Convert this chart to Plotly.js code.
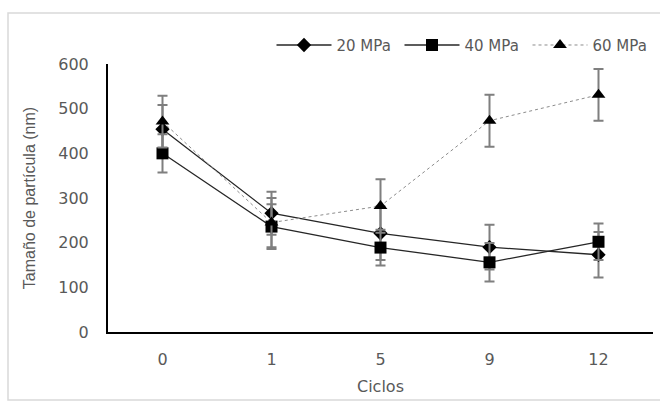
<!DOCTYPE html>
<html>
<head>
<meta charset="utf-8">
<script src="https://cdn.plot.ly/plotly-3.0.1.min.js"></script>
<style>html,body{margin:0;padding:0;background:#fff;}#chart{width:660px;height:401px;}</style>
</head>
<body>
<div id="chart"></div>
<script>
const categories = ['0', '1', '5', '9', '12'];
const seriesNames = ['20 MPa', '40 MPa', '60 MPa'];
const values20 = [454, 266, 221, 190, 173];
const errors20 = [54, 48, 60, 50, 51];
const values40 = [400, 236, 189, 156, 202];
const errors40 = [43, 50, 40, 43, 41];
const values60 = [471, 245, 282, 473, 531];
const errors60 = [58, 55, 60, 58, 58];
const yTicks = [0, 100, 200, 300, 400, 500, 600];

const txt = '#595959';
const hFont = 'DejaVu Sans, Liberation Sans, Arial, sans-serif';
const errStyle = {type: 'data', visible: true, color: '#7f7f7f', thickness: 2, width: 5};

const traces = [
  {x: categories, y: values20, name: seriesNames[0], type: 'scatter', mode: 'lines+markers',
   line: {color: '#262626', width: 1.3},
   marker: {symbol: 'diamond', size: 11, color: '#000'},
   error_y: Object.assign({array: errors20}, errStyle)},
  {x: categories, y: values40, name: seriesNames[1], type: 'scatter', mode: 'lines+markers',
   line: {color: '#262626', width: 1.3},
   marker: {symbol: 'square', size: 12, color: '#000'},
   error_y: Object.assign({array: errors40}, errStyle)},
  {x: categories, y: values60, name: seriesNames[2], type: 'scatter', mode: 'lines+markers',
   line: {color: '#8c8c8c', width: 1, dash: 'dot'},
   marker: {symbol: 'triangle-up', size: 12, color: '#000'},
   error_y: Object.assign({array: errors60}, errStyle)}
];

const layout = {
  width: 660, height: 401,
  margin: {l: 108, r: 7, t: 64, b: 69, autoexpand: false},
  paper_bgcolor: '#fff', plot_bgcolor: '#fff',
  showlegend: true,
  legend: {orientation: 'h', x: 0.3, xanchor: 'left', y: 1.07, yanchor: 'middle',
           font: {family: hFont, size: 15, color: txt}, itemwidth: 55,
           entrywidth: 58, entrywidthmode: 'pixels', bgcolor: 'rgba(0,0,0,0)'},
  xaxis: {type: 'category', range: [-0.5, 4.5], showgrid: false, zeroline: false,
          showline: true, linecolor: '#000', linewidth: 2, ticks: '',
          tickfont: {family: hFont, size: 16, color: txt}, ticklabelstandoff: 12,
          title: {text: 'Ciclos', font: {family: hFont, size: 16, color: txt}, standoff: 13}},
  yaxis: {range: [0, 600], tickvals: yTicks, showgrid: false, zeroline: false,
          showline: true, linecolor: '#000', linewidth: 2, ticks: '',
          tickfont: {family: hFont, size: 16, color: txt}, ticklabelstandoff: 14,
          title: {text: 'Tamaño de partícula (nm)', font: {family: 'Liberation Sans, Arial, sans-serif', size: 16, color: txt}, standoff: 19}},
  shapes: [{type: 'rect', xref: 'paper', yref: 'paper', x0: -0.1835, x1: 1.2, y0: -0.254, y1: 1.19,
            line: {color: '#d9d9d9', width: 1.5}, layer: 'below'}]
};

Plotly.newPlot('chart', traces, layout, {displayModeBar: false, staticPlot: true});
</script>
</body>
</html>
